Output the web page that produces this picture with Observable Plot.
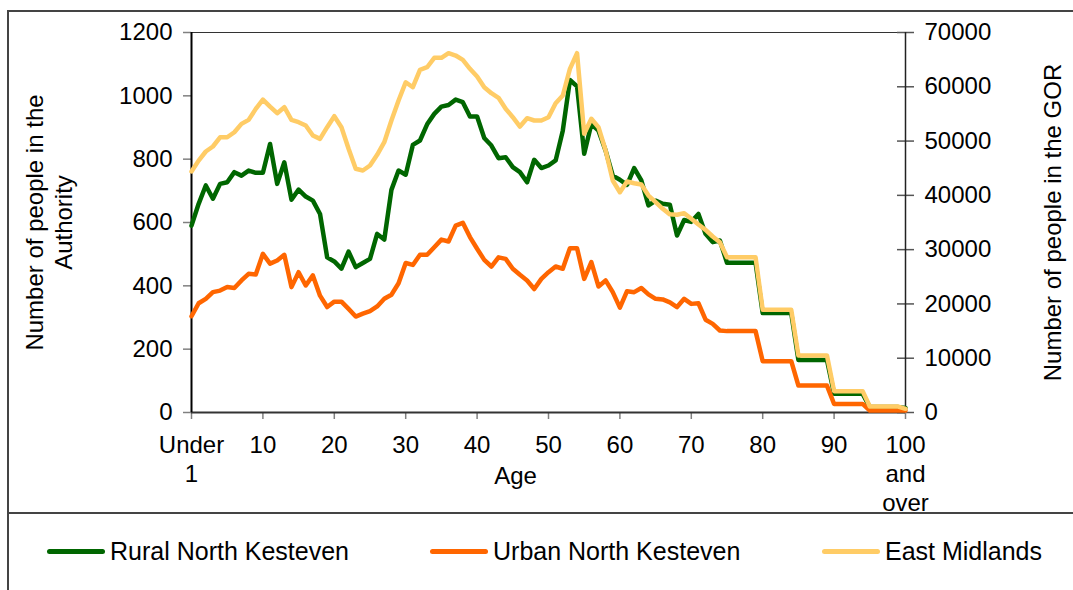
<!DOCTYPE html>
<html><head><meta charset="utf-8">
<script src="https://cdn.jsdelivr.net/npm/d3@7"></script>
<script src="https://cdn.jsdelivr.net/npm/@observablehq/plot@0.6"></script>
<style>
body{margin:0;background:#fff;font-family:"Liberation Sans",Arial,sans-serif;}
#wrap{position:relative;width:1073px;height:590px;overflow:hidden;}
#box{position:absolute;left:7px;top:10px;width:1100px;height:600px;border-left:2px solid #444;border-top:2px solid #444;box-sizing:border-box;}
#sep{position:absolute;left:8px;top:512px;width:1100px;height:0;border-top:2px solid #444;}
#chart{position:absolute;left:0;top:0;}
.leg{position:absolute;top:537px;font-size:25px;display:flex;align-items:center;white-space:nowrap;color:#000;}
.sw{width:58px;height:5px;border-radius:3px;margin-right:5px;}
</style></head>
<body>
<div id="wrap"><div id="box"></div><div id="chart"></div><div id="sep"></div><div id="legend"></div></div>
<script>
const series = ["Rural North Kesteven", "Urban North Kesteven", "East Midlands"];
const colors = ["#006600", "#FF6600", "#FFCC66"];
const ages = d3.range(0, 101);
const rural = [590,659,717,675,722,727,759,748,764,757,757,848,722,790,672,704,682,669,627,490,
  477,454,508,459,472,485,564,546,703,764,751,845,859,910,943,966,971,988,980,935,
  935,867,843,803,806,775,759,727,798,772,780,796,890,1050,1030,817,911,890,827,748,
  735,719,772,733,654,669,659,656,559,608,602,627,564,538,543,
  473,473,473,473,473,314,314,314,314,314,166,166,166,166,166,59,59,59,59,59,17,17,17,17,17,14];
const urban = [304,345,359,380,385,396,393,417,438,436,501,470,480,498,396,443,401,433,369,333,
  350,350,327,303,312,320,335,359,372,408,472,466,498,498,522,546,540,590,599,554,
  517,482,461,490,485,454,435,417,390,422,443,461,454,519,519,422,475,398,417,380,
  331,383,380,393,373,359,357,348,333,359,343,345,293,280,259,
  257,257,257,257,257,162,162,162,162,162,85,85,85,85,85,27,27,27,27,27,6,6,6,6,6,6];
const eastMidlands = [44400,46400,48080,49000,50700,50700,51630,53170,53900,55930,57650,56360,55130,56240,53900,53480,52870,51030,50410,52560,
  54580,52560,48580,44890,44580,45500,47470,49790,53790,57470,60840,59920,63130,63600,65330,65330,66190,65760,64960,63310,
  61890,59920,58820,57970,55940,54400,52680,54210,53790,53790,54400,56980,58400,63310,66190,51340,54100,52560,48260,42740,
  40580,42550,42240,42000,39970,38740,37520,36500,36420,36720,35680,34630,33650,32420,31370,
  28610,28610,28610,28610,28610,18920,18920,18920,18920,18920,10500,10500,10500,10500,10500,3930,3930,3930,3930,3930,1100,1100,1100,1100,1100,680];
const leftTicks = [0,200,400,600,800,1000,1200];
const rightTicks = [0,10000,20000,30000,40000,50000,60000,70000];
const xTicks = [0,10,20,30,40,50,60,70,80,90,100];
const xTickLabels = ["Under\n1","10","20","30","40","50","60","70","80","90","100\nand\nover"];
const leftTitle = "Number of people in the\nAuthority";
const rightTitle = "Number of people in the GOR";
const xTitle = "Age";

const leftMax = 1200, rightMax = 70000;
const toLeft = v => v * leftMax / rightMax;

const rows = [];
const vals = [rural, urban, eastMidlands.map(toLeft)];
series.forEach((s, i) => ages.forEach((a, j) => rows.push({series: s, age: a, value: vals[i][j]})));

const font = '"Liberation Sans", Arial, sans-serif';
const chart = Plot.plot({
  width: 1073, height: 590,
  marginLeft: 191, marginRight: 168, marginTop: 32, marginBottom: 178,
  style: {fontFamily: font, fontSize: "24px", color: "#000", background: "transparent", overflow: "visible"},
  x: {domain: [0, 100]},
  y: {domain: [0, leftMax]},
  marks: [
    Plot.ruleY([leftMax], {stroke: "#333", strokeWidth: 1}),
    Plot.axisY({anchor: "left", ticks: leftTicks, tickSize: 8, tickPadding: 11, stroke: "#808080", strokeWidth: 1.5, label: null, tickFormat: d => String(d)}),
    Plot.axisY({anchor: "right", ticks: rightTicks.map(toLeft), tickSize: 8, tickPadding: 11, stroke: "#555", strokeWidth: 1.5, label: null, tickFormat: d => String(Math.round(d * rightMax / leftMax))}),
    Plot.axisY({anchor: "right", ticks: rightTicks.map(toLeft), tickSize: -9, stroke: "#555", strokeWidth: 1.5, label: null, tickFormat: () => ""}),
    Plot.axisX({anchor: "bottom", ticks: xTicks, tickSize: 7, tickPadding: 13, stroke: "#808080", strokeWidth: 1.5, label: null, lineHeight: 1.2, tickFormat: d => xTickLabels[xTicks.indexOf(d)]}),
    Plot.ruleX([100], {stroke: "#222", strokeWidth: 1.5}),
    Plot.ruleY([0], {stroke: "#333", strokeWidth: 2}),
    Plot.ruleX([0], {stroke: "#000", strokeWidth: 2}),
    ...series.map((s, i) => Plot.line(rows.filter(r => r.series === s), {x: "age", y: "value", stroke: colors[i], strokeWidth: 4.5, strokeLinejoin: "round", strokeLinecap: "round"})),
    Plot.text([leftTitle], {text: d => d, frameAnchor: "left", textAnchor: "middle", dx: -143.5, rotate: -90, lineHeight: 1.2, fontSize: 24}),
    Plot.text([rightTitle], {text: d => d, frameAnchor: "right", textAnchor: "middle", dx: 148, rotate: -90, fontSize: 24}),
    Plot.text([xTitle], {text: d => d, frameAnchor: "bottom", dx: -33, dy: 71, fontSize: 24})
  ]
});
document.getElementById("chart").appendChild(chart);

const legPos = [47, 430, 822];
const legend = document.getElementById("legend");
series.forEach((s, i) => {
  const item = document.createElement("div");
  item.className = "leg";
  item.style.left = legPos[i] + "px";
  item.innerHTML = `<div class="sw" style="background:${colors[i]}"></div><span>${s}</span>`;
  legend.appendChild(item);
});
</script>
</body></html>
